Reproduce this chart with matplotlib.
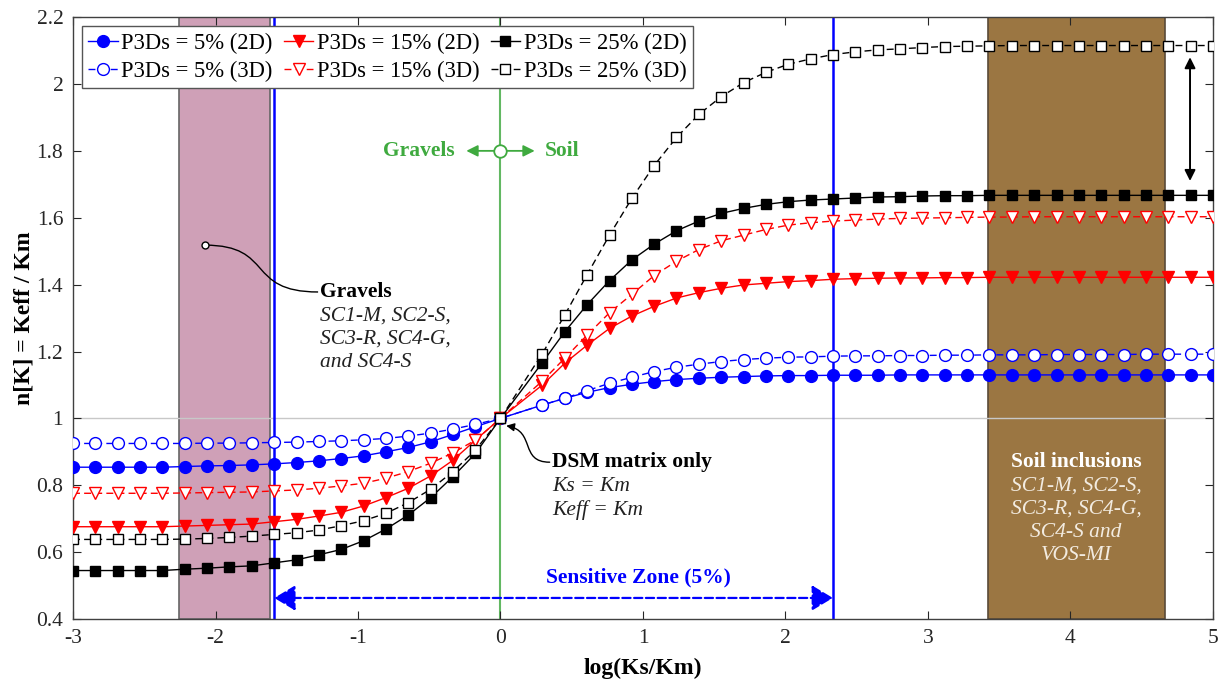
import matplotlib
matplotlib.use("Agg")
import matplotlib.pyplot as plt
from matplotlib.path import Path
from matplotlib.patches import FancyArrowPatch, PathPatch

plt.rcParams['font.family'] = ['Liberation Serif', 'DejaVu Serif']
plt.rcParams['axes.unicode_minus'] = False
plt.rcParams['mathtext.fontset'] = 'stix'

# ---------------- data ----------------
x_vals = [-3.0, -2.843, -2.686, -2.529, -2.373, -2.216, -2.059, -1.902, -1.745, -1.588,
          -1.431, -1.275, -1.118, -0.961, -0.804, -0.647, -0.49, -0.333, -0.176, 0.0,
          0.294, 0.451, 0.608, 0.765, 0.922, 1.078, 1.235, 1.392, 1.549, 1.706,
          1.863, 2.02, 2.176, 2.333, 2.49, 2.647, 2.804, 2.961, 3.118, 3.275,
          3.431, 3.588, 3.745, 3.902, 4.059, 4.216, 4.373, 4.529, 4.686, 4.843, 5.0]

p5_2d = [0.854, 0.854, 0.854, 0.854, 0.854, 0.856, 0.858, 0.859, 0.861, 0.864,
         0.868, 0.873, 0.880, 0.888, 0.900, 0.913, 0.930, 0.952, 0.975, 1.000,
         1.040, 1.060, 1.078, 1.092, 1.102, 1.110, 1.116, 1.120, 1.123, 1.125,
         1.127, 1.128, 1.128, 1.129, 1.129, 1.129, 1.130, 1.130, 1.130, 1.130,
         1.130, 1.130, 1.130, 1.130, 1.130, 1.130, 1.130, 1.130, 1.130, 1.130, 1.130]
p5_3d = [0.925, 0.925, 0.925, 0.925, 0.925, 0.925, 0.926, 0.926, 0.927, 0.928,
         0.929, 0.931, 0.933, 0.936, 0.940, 0.947, 0.956, 0.968, 0.982, 1.000,
         1.040, 1.060, 1.083, 1.105, 1.123, 1.140, 1.153, 1.162, 1.170, 1.176,
         1.180, 1.183, 1.184, 1.186, 1.187, 1.187, 1.188, 1.188, 1.189, 1.189,
         1.190, 1.190, 1.190, 1.191, 1.191, 1.191, 1.191, 1.192, 1.192, 1.192, 1.192]
p15_2d = [0.676, 0.676, 0.676, 0.676, 0.676, 0.678, 0.680, 0.682, 0.684, 0.691,
          0.698, 0.708, 0.719, 0.738, 0.763, 0.791, 0.828, 0.875, 0.935, 1.000,
          1.100, 1.165, 1.219, 1.269, 1.306, 1.335, 1.360, 1.376, 1.389, 1.399,
          1.404, 1.409, 1.412, 1.416, 1.418, 1.419, 1.420, 1.420, 1.421, 1.421,
          1.422, 1.422, 1.422, 1.422, 1.422, 1.422, 1.422, 1.422, 1.422, 1.422, 1.422]
p15_3d = [0.776, 0.776, 0.776, 0.776, 0.776, 0.777, 0.778, 0.779, 0.780, 0.783,
          0.786, 0.791, 0.798, 0.806, 0.821, 0.841, 0.866, 0.897, 0.935, 1.000,
          1.112, 1.180, 1.249, 1.316, 1.371, 1.427, 1.470, 1.505, 1.531, 1.548,
          1.565, 1.578, 1.585, 1.590, 1.593, 1.596, 1.598, 1.599, 1.600, 1.601,
          1.602, 1.602, 1.603, 1.603, 1.603, 1.603, 1.603, 1.603, 1.603, 1.603, 1.603]
p25_2d = [0.545, 0.545, 0.545, 0.545, 0.545, 0.549, 0.552, 0.556, 0.559, 0.568,
          0.577, 0.592, 0.608, 0.634, 0.669, 0.711, 0.763, 0.826, 0.895, 1.000,
          1.167, 1.259, 1.340, 1.412, 1.474, 1.521, 1.561, 1.590, 1.613, 1.628,
          1.640, 1.648, 1.653, 1.656, 1.659, 1.662, 1.663, 1.665, 1.666, 1.666,
          1.667, 1.667, 1.667, 1.667, 1.667, 1.667, 1.667, 1.667, 1.667, 1.667, 1.667]
p25_3d = [0.638, 0.638, 0.638, 0.638, 0.638, 0.639, 0.641, 0.644, 0.648, 0.653,
          0.658, 0.666, 0.679, 0.694, 0.716, 0.748, 0.788, 0.841, 0.905, 1.000,
          1.194, 1.309, 1.430, 1.548, 1.658, 1.756, 1.840, 1.909, 1.962, 2.004,
          2.035, 2.059, 2.075, 2.088, 2.096, 2.102, 2.105, 2.109, 2.112, 2.113,
          2.114, 2.115, 2.115, 2.115, 2.115, 2.115, 2.115, 2.115, 2.115, 2.115, 2.115]

labels = ["P3Ds = 5% (2D)", "P3Ds = 5% (3D)", "P3Ds = 15% (2D)",
          "P3Ds = 15% (3D)", "P3Ds = 25% (2D)", "P3Ds = 25% (3D)"]

x_ticks = [-3, -2, -1, 0, 1, 2, 3, 4, 5]
x_ticklabels = ["-3", "-2", "-1", "0", "1", "2", "3", "4", "5"]
y_ticks = [0.4, 0.6, 0.8, 1.0, 1.2, 1.4, 1.6, 1.8, 2.0, 2.2]
y_ticklabels = ["0.4", "0.6", "0.8", "1", "1.2", "1.4", "1.6", "1.8", "2", "2.2"]

gravel_band = (-2.256, -1.62)
soil_band = (3.42, 4.66)
sens_limits = (-1.588, 2.333)

# ---------------- figure ----------------
fig = plt.figure(figsize=(12.23, 6.84), dpi=100)
ax = fig.add_axes([0.0597, 0.095, 0.9321, 0.880])
ax.set_xlim(-3, 5)
ax.set_ylim(0.4, 2.2)

ax.axvspan(*gravel_band, facecolor='#CFA0B7', edgecolor='#666666', lw=1.2, zorder=0)
ax.axvspan(*soil_band, facecolor='#9B7642', edgecolor='#5A4A38', lw=1.2, zorder=0)
ax.axhline(1.0, color='#C8C8C8', lw=1.0, zorder=0.5)
ax.axvline(0.0, color='#62B862', lw=1.5, zorder=0.6)
for xv in sens_limits:
    ax.axvline(xv, color='#0000FF', lw=1.8, zorder=0.7)

ms_c, ms_t, ms_s = 8.5, 8.5, 7.5
styles = [
    (p5_2d, dict(color='#0000FF', ls='-', marker='o', ms=ms_c, mfc='#0000FF', mec='#0000FF')),
    (p5_3d, dict(color='#0000FF', ls=(0, (5, 3)), marker='o', ms=ms_c, mfc='white', mec='#0000FF')),
    (p15_2d, dict(color='#FF0000', ls='-', marker='v', ms=ms_t, mfc='#FF0000', mec='#FF0000')),
    (p15_3d, dict(color='#FF0000', ls=(0, (5, 3)), marker='v', ms=ms_t, mfc='white', mec='#FF0000')),
    (p25_2d, dict(color='black', ls='-', marker='s', ms=ms_s, mfc='black', mec='black')),
    (p25_3d, dict(color='black', ls=(0, (5, 3)), marker='s', ms=ms_s, mfc='white', mec='black')),
]
handles = []
for (vals, st), lab in zip(styles, labels):
    h, = ax.plot(x_vals, vals, lw=1.0, mew=1.0, label=lab, zorder=3, **st)
    handles.append(h)

leg = ax.legend(handles=handles, loc='upper left', ncol=3, fontsize=16.3,
                frameon=True, fancybox=False, framealpha=1, edgecolor='#555555',
                handlelength=1.3, handletextpad=0.15, columnspacing=0.5,
                borderpad=0.28, labelspacing=0.3, borderaxespad=0.4)
leg.get_frame().set_linewidth(1.0)
leg.set_zorder(10)

# ticks / axes
ax.set_xticks(x_ticks)
ax.set_xticklabels(x_ticklabels)
ax.set_yticks(y_ticks)
ax.set_yticklabels(y_ticklabels)
ax.tick_params(direction='in', length=6, width=0.8, top=True, right=True,
               labelsize=15.5, colors='#262626', pad=7)
for sp in ax.spines.values():
    sp.set_color('#404040')
    sp.set_linewidth(1.0)
ax.set_xlabel('log(Ks/Km)', fontsize=17, fontweight='bold', labelpad=7)
ax.set_ylabel('n[K] = Keff / Km', fontsize=17, fontweight='bold', labelpad=1)

# Green "Gravels <- o -> Soil"
green = '#3FAA3F'
ax.annotate('', xy=(-0.24, 1.8), xytext=(0, 1.8),
            arrowprops=dict(arrowstyle='-|>', color=green, lw=1.3, mutation_scale=17,
                            shrinkA=0, shrinkB=0), zorder=4)
ax.annotate('', xy=(0.24, 1.8), xytext=(0, 1.8),
            arrowprops=dict(arrowstyle='-|>', color=green, lw=1.3, mutation_scale=17,
                            shrinkA=0, shrinkB=0), zorder=4)
ax.plot([0], [1.8], marker='o', ms=9, mfc='white', mec=green, mew=1.3, zorder=5)
ax.text(-0.32, 1.8, 'Gravels', color=green, fontsize=15.5, fontweight='bold',
        ha='right', va='center')
ax.text(0.31, 1.8, 'Soil', color=green, fontsize=15.5, fontweight='bold',
        ha='left', va='center')

# Sensitive zone arrow
ax.annotate('', xy=(sens_limits[0], 0.463), xytext=(sens_limits[1], 0.463),
            arrowprops=dict(arrowstyle='<|-|>,head_length=0.5,head_width=0.3',
                            color='#0000FF', lw=1.6, ls='--',
                            mutation_scale=26, shrinkA=0, shrinkB=0), zorder=4)
ax.text(0.965, 0.523, 'Sensitive Zone (5%)', color='#0000FF', fontsize=15.5,
        fontweight='bold', ha='center', va='center')

# vertical double arrow (3D vs 2D gap)
ax.annotate('', xy=(4.839, 2.08), xytext=(4.839, 1.71),
            arrowprops=dict(arrowstyle='<|-|>', color='black', lw=1.4,
                            mutation_scale=16, shrinkA=0, shrinkB=0), zorder=4)

# Gravels annotation with S-curve
verts = [(-2.074, 1.518), (-1.583, 1.518), (-1.793, 1.378), (-1.28, 1.378)]
gpath = Path(verts, [Path.MOVETO, Path.CURVE4, Path.CURVE4, Path.CURVE4])
ax.add_patch(PathPatch(gpath, facecolor='none', edgecolor='black', lw=1.0, zorder=4))
ax.plot([-2.074], [1.518], marker='o', ms=5, mfc='white', mec='black', mew=1.0, zorder=5)
ax.text(-1.265, 1.378, 'Gravels', fontsize=15.5, fontweight='bold', ha='left', va='center')
for i, line in enumerate(['SC1-M, SC2-S,', 'SC3-R, SC4-G,', 'and SC4-S']):
    ax.text(-1.265, 1.305 - i * 0.069, line, fontsize=15.5, fontstyle='italic',
            color='#222222', ha='left', va='center')

# DSM annotation with curved arrow
dverts = [(0.345, 0.869), (0.13, 0.869), (0.25, 0.962), (0.04, 0.978)]
dpath = Path(dverts, [Path.MOVETO, Path.CURVE4, Path.CURVE4, Path.CURVE4])
ax.add_patch(FancyArrowPatch(path=dpath, arrowstyle='-|>', mutation_scale=12,
                             color='black', lw=1.0, zorder=6))
ax.text(0.36, 0.869, 'DSM matrix only', fontsize=15.5, fontweight='bold',
        ha='left', va='center')
ax.text(0.36, 0.797, 'Ks = Km', fontsize=15.5, fontstyle='italic', color='#222222',
        ha='left', va='center')
ax.text(0.36, 0.727, 'Keff = Km', fontsize=15.5, fontstyle='italic', color='#222222',
        ha='left', va='center')

# Soil inclusions text
cx = (soil_band[0] + soil_band[1]) / 2
ax.text(cx, 0.869, 'Soil inclusions', fontsize=15.5, fontweight='bold', color='white',
        ha='center', va='center')
for i, line in enumerate(['SC1-M, SC2-S,', 'SC3-R, SC4-G,', 'SC4-S and', 'VOS-MI']):
    ax.text(cx, 0.798 - i * 0.069, line, fontsize=15.5, fontstyle='italic',
            color='#F2EBE0', ha='center', va='center')

fig.savefig('out.png', dpi=100)
